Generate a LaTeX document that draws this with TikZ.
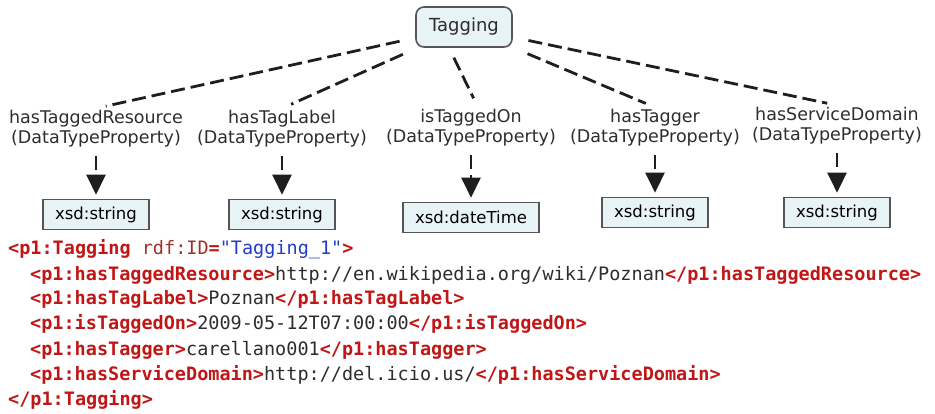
\documentclass[tikz,border=0pt]{standalone}
\usepackage{fontspec}
\setmainfont{DejaVu Sans}
\newfontfamily\codefont{DejaVu Sans Mono}[Ligatures=TeXOff]
\usetikzlibrary{positioning, arrows.meta}
\definecolor{tagred}{RGB}{192,22,22}
\definecolor{attrcol}{RGB}{160,48,40}
\definecolor{valblue}{RGB}{35,60,200}
\definecolor{txtgray}{RGB}{45,45,45}
\definecolor{boxfill}{RGB}{232,243,246}
\definecolor{boxline}{RGB}{85,85,85}
\definecolor{linkcol}{RGB}{30,30,30}
\tikzset{
  clase/.style={rectangle, rounded corners=8pt, minimum width=96pt, minimum height=40pt, draw=boxline, line width=1.6pt, fill=boxfill, text=txtgray, font=\fontsize{18}{20}\selectfont},
  propiedad/.style={align=center, text=txtgray, font=\fontsize{17.5}{20}\selectfont, inner sep=2pt},
  tipo/.style={rectangle, minimum width=104pt, minimum height=30pt, inner xsep=12pt, draw=boxline, line width=1.6pt, fill=boxfill, text=black, font=\fontsize{16.5}{20}\selectfont},
  enlace/.style={draw=linkcol, line width=2.8pt, dash pattern=on 14pt off 6pt, shorten <=16pt, shorten >=10pt},
  flecha/.style={draw=linkcol, line width=2.8pt, dash pattern=on 14pt off 6pt, shorten <=6pt, shorten >=4pt, -{Triangle[width=19pt,length=20pt]}},
  codigo/.style={anchor=base west, inner sep=0pt, text=txtgray, font=\codefont\fontsize{18.5}{22}\selectfont}
}
\newcommand{\xtag}[1]{\textcolor{tagred}{\bfseries #1}}

\begin{document}
\begin{tikzpicture}[x=1pt, y=-1pt]
    \path[use as bounding box] (0,0) rectangle (935,414);

    % --- Clase ---
    \node (tag) [clase] at (464,27) {Tagging};

    % --- Propiedades ---
    \node (recurso) [propiedad] at (96,129) {hasTaggedResource\\(DataTypeProperty)};
    \node (etiqueta) [propiedad] at (282,129) {hasTagLabel\\(DataTypeProperty)};
    \node (fecha) [propiedad] at (471,128) {isTaggedOn\\(DataTypeProperty)};
    \node (autor) [propiedad] at (655,128) {hasTagger\\(DataTypeProperty)};
    \node (dominio) [propiedad] at (837,126) {hasServiceDomain\\(DataTypeProperty)};

    % --- Tipos ---
    \node (trecurso) [tipo, below=49pt of recurso] {xsd:string};
    \node (tetiqueta) [tipo, below=49pt of etiqueta] {xsd:string};
    \node (tfecha) [tipo, below=53pt of fecha] {xsd:dateTime};
    \node (tautor) [tipo, below=48pt of autor] {xsd:string};
    \node (tdominio) [tipo, below=50pt of dominio] {xsd:string};

    % --- Conexiones ---
    \draw [enlace] (tag) -- (recurso.north);
    \draw [enlace] (tag) -- (etiqueta.north);
    \draw [enlace, shorten <=11pt] ([xshift=-15pt]tag.south) -- ([xshift=7pt]fecha.north);
    \draw [enlace] (tag) -- (autor.north);
    \draw [enlace] (tag) -- (dominio.north);

    \draw [flecha] (recurso) -- (trecurso);
    \draw [flecha] (etiqueta) -- (tetiqueta);
    \draw [flecha] (fecha) -- (tfecha);
    \draw [flecha] (autor) -- (tautor);
    \draw [flecha] (dominio) -- (tdominio);

    % --- Instancia RDF/XML ---
    \node (xml1) [codigo] at (8,255) {\xtag{<p1:Tagging} \textcolor{attrcol}{rdf:ID}\xtag{=}\textcolor{valblue}{"Tagging\_1"}\xtag{>}};
    \node (xml2) [codigo] at (30,280) {\xtag{<p1:hasTaggedResource>}http://en.wikipedia.org/wiki/Poznan\xtag{</p1:hasTaggedResource>}};
    \node (xml3) [codigo] at (30,305) {\xtag{<p1:hasTagLabel>}Poznan\xtag{</p1:hasTagLabel>}};
    \node (xml4) [codigo] at (30,330) {\xtag{<p1:isTaggedOn>}2009-05-12T07:00:00\xtag{</p1:isTaggedOn>}};
    \node (xml5) [codigo] at (30,355) {\xtag{<p1:hasTagger>}carellano001\xtag{</p1:hasTagger>}};
    \node (xml6) [codigo] at (30,380) {\xtag{<p1:hasServiceDomain>}http://del.icio.us/\xtag{</p1:hasServiceDomain>}};
    \node (xml7) [codigo] at (8,405) {\xtag{</p1:Tagging>}};
\end{tikzpicture}
\end{document}
